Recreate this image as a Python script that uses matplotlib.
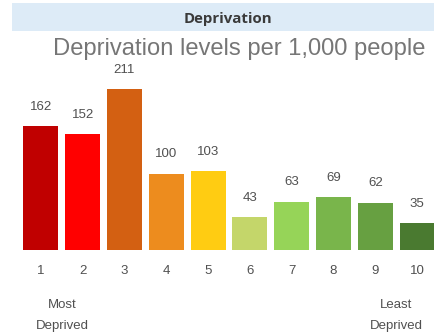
import matplotlib
matplotlib.use("Agg")
import matplotlib.pyplot as plt
from matplotlib.patches import Rectangle

categories = ["1", "2", "3", "4", "5", "6", "7", "8", "9", "10"]
values = [162, 152, 211, 100, 103, 43, 63, 69, 62, 35]
colors = ["#C00000", "#FF0000", "#D36012", "#ED8C1E", "#FFCC12",
          "#C4D66A", "#96D458", "#79B54B", "#67A041", "#4A7A30"]
header = "Deprivation"
subtitle = "Deprivation levels per 1,000 people"
end_labels = ["Most\nDeprived", "Least\nDeprived"]

W, H = 434, 335
fig = plt.figure(figsize=(W / 100, H / 100), dpi=100)
fig.patch.set_facecolor("white")
renderer = fig.canvas.get_renderer()


def fit_text(x0, y, s, size, target_w, **kw):
    t = fig.text(x0 / W, 1 - y / H, s, fontsize=size, **kw)
    w = t.get_window_extent(renderer).width
    t.set_fontsize(size * target_w / w)
    return t


# header band
fig.patches.append(Rectangle((12 / W, 1 - 31 / H), (W - 12) / W, 28 / H,
                             transform=fig.transFigure, facecolor="#DDEBF7",
                             edgecolor="none"))
fit_text(228, 23.5, header, 10, 89, ha="center", va="baseline",
         fontweight="bold", color="#3A3A3A", family="Open Sans")
fit_text(53, 55, subtitle, 16, 374, ha="left", va="baseline",
         color="#767676", family="Liberation Sans")

# axes: baseline at y=250 px, x centers from 41 to ~417
base = 250
top_val_px = 89
ax_left = 20
ax_w = 418
scale = (base - top_val_px) / 211.0
ax = fig.add_axes([ax_left / W, (H - base) / H, ax_w / W, base / H])
ax.set_xlim(0.5, 10.5)
ax.set_ylim(0, base / scale)
x = list(range(1, 11))
ax.bar(x, values, width=0.84, color=colors)
for xi, v in zip(x, values):
    ax.annotate(str(v), (xi, v), xytext=(0, 14), textcoords="offset points",
                ha="center", va="center", fontsize=9.5, color="#505050",
                family="Liberation Sans")
ax.set_xticks(x)
ax.set_xticklabels(categories, fontsize=9.5, color="#505050", family="Liberation Sans")
ax.tick_params(axis="x", length=0, pad=11)
ax.set_yticks([])
for s in ax.spines.values():
    s.set_visible(False)
ax.patch.set_alpha(0)

for cx, lab in zip([62, 396], end_labels):
    l1, l2 = lab.split("\n")
    fig.text(cx / W, 1 - 305 / H, l1, ha="center", va="center",
             fontsize=9.5, color="#505050", family="Liberation Sans")
    fig.text(cx / W, 1 - 326 / H, l2, ha="center", va="center",
             fontsize=9.5, color="#505050", family="Liberation Sans")

fig.savefig("out.png", dpi=100)
